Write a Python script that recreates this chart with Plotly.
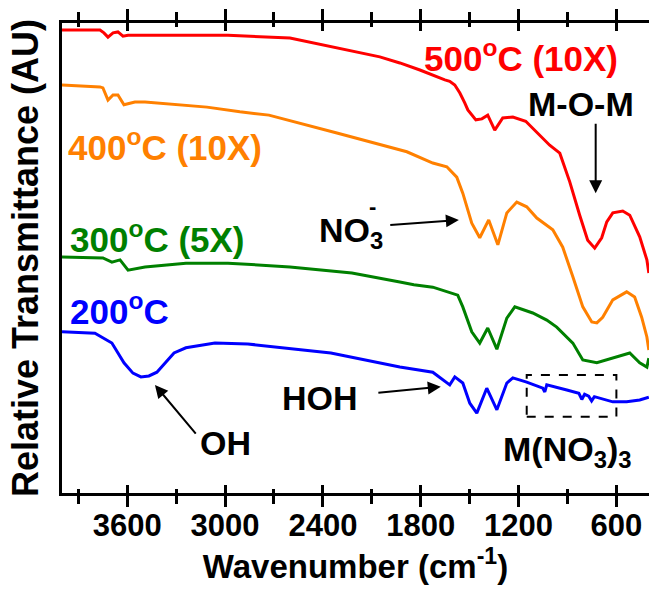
import plotly.graph_objects as go

# FTIR spectra (wavenumber in cm^-1, relative transmittance in arbitrary units)
wn_500 = [4000, 3767, 3743, 3718, 3687, 3657, 3626, 3595, 3277, 2982, 2602, 2314, 2051, 1928,
          1805, 1652, 1622, 1591, 1575, 1560, 1530, 1511, 1462, 1425, 1389, 1346, 1297, 1235,
          1156, 1082, 1009, 947, 886, 825, 776, 733, 690, 659, 622, 561, 518, 457, 413, 401]
t_500 = [98.5, 98.5, 97.9, 97.0, 97.9, 98.1, 97.2, 97.4, 97.4, 97.4, 96.8, 94.7, 92.8, 91.5,
         90.0, 87.9, 87.6, 86.8, 86.0, 85.1, 83.0, 81.5, 79.4, 79.6, 80.4, 77.2, 79.8, 80.0,
         79.1, 76.6, 74.0, 72.3, 66.2, 59.1, 53.8, 52.1, 54.3, 57.7, 59.6, 60.0, 59.1, 54.5,
         49.6, 46.8]

wn_400 = [4000, 3767, 3749, 3718, 3687, 3657, 3620, 3553, 3491, 3111, 2909, 2731, 2314, 1885,
          1726, 1640, 1579, 1542, 1487, 1438, 1383, 1327, 1272, 1211, 1150, 1088, 990, 929,
          867, 806, 751, 720, 684, 622, 537, 488, 445, 413, 401]
t_400 = [86.8, 86.4, 86.2, 83.6, 84.7, 84.7, 82.6, 83.2, 83.2, 82.1, 81.1, 80.4, 76.6, 72.6,
         70.2, 69.4, 67.2, 63.8, 57.4, 54.3, 58.1, 52.8, 59.6, 61.9, 60.9, 58.5, 56.0, 52.3,
         46.0, 39.6, 36.4, 36.2, 37.4, 41.1, 42.8, 41.7, 37.4, 33.2, 30.4]

wn_300 = [4000, 3749, 3694, 3644, 3595, 3491, 3240, 2982, 2602, 2222, 1928, 1842, 1726, 1615,
          1573, 1542, 1487, 1438, 1389, 1333, 1272, 1223, 1113, 1027, 966, 867, 806, 720,
          622, 518, 457, 413, 401]
t_300 = [50.2, 50.0, 49.1, 49.6, 47.4, 48.1, 48.9, 48.9, 48.1, 46.8, 44.9, 44.3, 43.8, 42.6,
         42.1, 39.6, 34.3, 31.9, 35.1, 30.6, 37.2, 39.6, 38.3, 36.8, 35.3, 31.9, 28.3, 27.7,
         28.7, 29.8, 27.7, 26.8, 28.7]

wn_200 = [4000, 3798, 3694, 3620, 3565, 3516, 3467, 3418, 3313, 3240, 3062, 2860, 2351, 1928,
          1726, 1664, 1622, 1591, 1542, 1499, 1456, 1395, 1333, 1272, 1235, 1150, 1051, 1039,
          1027, 904, 830, 812, 795, 770, 752, 735, 622, 537, 457, 401]
t_200 = [34.3, 34.0, 31.9, 27.7, 25.5, 24.7, 24.9, 25.7, 29.8, 30.9, 31.9, 31.7, 29.8, 26.8,
         25.7, 24.0, 23.0, 24.7, 23.4, 19.1, 17.0, 22.3, 17.7, 23.4, 24.5, 23.6, 22.3, 21.5,
         23.0, 21.9, 21.2, 19.9, 21.0, 20.6, 19.6, 20.5, 19.4, 19.4, 19.8, 20.4]

series = [
    ("500°C", wn_500, t_500, "#FF0000"),
    ("400°C", wn_400, t_400, "#FF8000"),
    ("300°C", wn_300, t_300, "#008000"),
    ("200°C", wn_200, t_200, "#0000FF"),
]

FONT = "Liberation Sans, Arial, sans-serif"

fig = go.Figure()
for name, x, y, c in series:
    fig.add_trace(go.Scatter(x=x, y=y, mode="lines", name=name,
                             line=dict(color=c, width=3)))

# empty trace so the overlaid axes (inside ticks / right frame) are drawn
fig.add_trace(go.Scatter(x=[], y=[], xaxis="x2", yaxis="y2", showlegend=False))

# curve labels
labels = [
    ("500<sup>o</sup>C (10X)", 1790, 93.0, "#FF0000"),
    ("400<sup>o</sup>C (10X)", 3975, 74.0, "#FF8000"),
    ("300<sup>o</sup>C (5X)", 3963, 54.5, "#008000"),
    ("200<sup>o</sup>C", 3963, 39.1, "#0000FF"),
]
for txt, x, y, c in labels:
    fig.add_annotation(x=x, y=y, text=txt, showarrow=False, xanchor="left",
                       yanchor="middle", font=dict(family=FONT, size=35, color=c, weight="bold"))

# band assignments
bands = [
    ("M-O-M", 818, 82.8, "center"),
    ("NO<sub>3</sub>", 2437, 55.5, "left"),
    ("HOH", 2418, 20.2, "center"),
    ("OH", 2998, 10.6, "center"),
    ("M(NO<sub>3</sub>)<sub>3</sub>", 1309, 8.8, "left"),
]
for txt, x, y, xa in bands:
    fig.add_annotation(x=x, y=y, text=txt, showarrow=False, xanchor=xa, yanchor="middle",
                       font=dict(family=FONT, size=34, color="black", weight="bold"))
fig.add_annotation(x=2097, y=61.0, text="-", showarrow=False, xanchor="center",
                   yanchor="middle", font=dict(family=FONT, size=22, color="black", weight="bold"))

# arrows: (tail wn, tail T, tip wn, tip T)
arrows = [
    (727, 78.9, 727, 63.8),
    (1996, 57.0, 1566, 58.1),
    (2069, 21.3, 1677, 22.6),
    (3172, 12.3, 3430, 23.0),
]
for ax_, ay_, x, y in arrows:
    fig.add_annotation(x=x, y=y, ax=ax_, ay=ay_, axref="x", ayref="y", text="",
                       showarrow=True, arrowhead=2, arrowsize=1.3, arrowwidth=2,
                       arrowcolor="black")

# dashed box around the nitrate region
fig.add_shape(type="rect", x0=1150, x1=600, y0=16.2, y1=25.1,
              line=dict(color="black", width=2, dash="dash"))

tickfont = dict(family=FONT, size=31, color="black", weight="bold")
fig.update_layout(
    width=649, height=592,
    margin=dict(l=62, r=0, t=23, b=99),
    plot_bgcolor="white", paper_bgcolor="white",
    showlegend=False,
    xaxis=dict(range=[4000, 400], tick0=0, dtick=600, ticks="outside", ticklen=11,
               tickwidth=3, tickcolor="black", showline=True, linewidth=3,
               linecolor="black", mirror="ticks", showgrid=False, zeroline=False,
               tickfont=tickfont, ticklabelstandoff=-8,
               minor=dict(dtick=300, tick0=0, ticks="outside", ticklen=8, tickwidth=3,
                          tickcolor="black", showgrid=False),
               title=dict(text="Wavenumber (cm<sup>-1</sup>)", standoff=10,
                          font=dict(family=FONT, size=33, color="black", weight="bold"))),
    xaxis2=dict(range=[4000, 400], overlaying="x", anchor="y", side="bottom",
                tick0=0, dtick=600, ticks="inside", ticklen=8, tickwidth=3,
                tickcolor="black", mirror="ticks", showticklabels=False,
                showgrid=False, zeroline=False, showline=False,
                minor=dict(dtick=300, tick0=0, ticks="inside", ticklen=4, tickwidth=3,
                           tickcolor="black", showgrid=False)),
    yaxis=dict(range=[0, 100], showticklabels=False, ticks="", showgrid=False,
               zeroline=False, showline=True, linewidth=3, linecolor="black",
               title=dict(text="Relative Transmittance (AU)", standoff=10,
                          font=dict(family=FONT, size=36, color="black", weight="bold"))),
    yaxis2=dict(range=[0, 100], overlaying="y", side="right", anchor="x",
                showticklabels=False, ticks="", showgrid=False, zeroline=False,
                showline=True, linewidth=1, linecolor="#888888"),
)

fig.write_html("out.html")
